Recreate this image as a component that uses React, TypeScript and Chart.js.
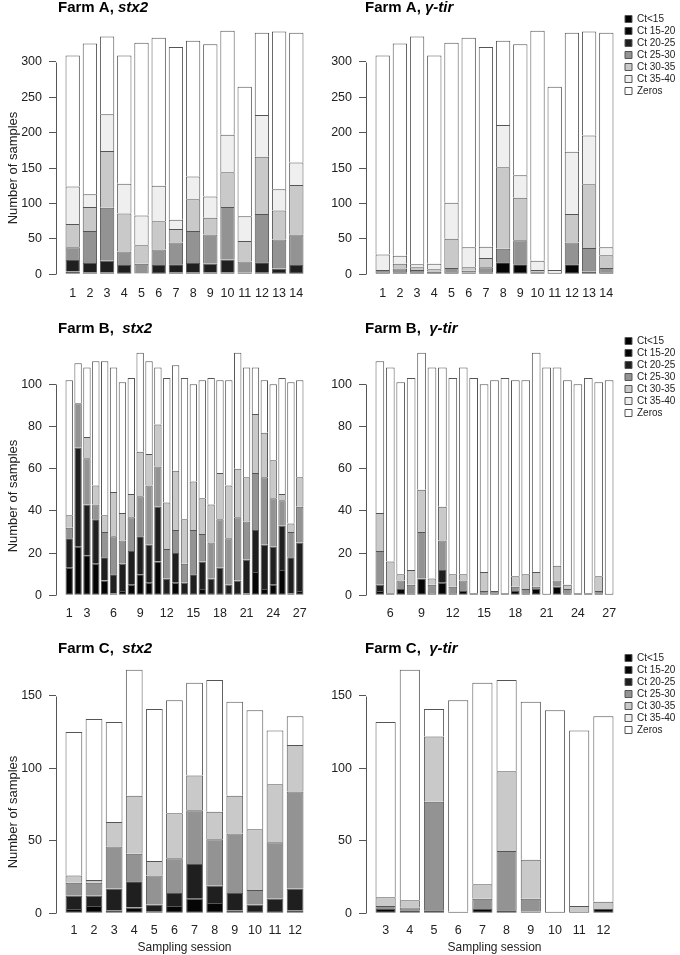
import React, { useEffect, useRef } from 'react';
import { Chart, registerables } from 'chart.js';

Chart.register(...registerables);

const FONT = "'Liberation Sans', Arial, Helvetica, sans-serif";
Chart.defaults.font.family = FONT;

const CATEGORIES = ['Ct<15', 'Ct 15-20', 'Ct 20-25', 'Ct 25-30', 'Ct 30-35', 'Ct 35-40', 'Zeros'];
const COLORS = ['#000000', '#050505', '#1f1f1f', '#939393', '#c9c9c9', '#efefef', '#ffffff'];
const BORDER = '#555555';
const AXIS = '#555555';
const TEXT = '#222222';

// ---------- sessions / tick labels ----------
const SESSIONS_A = [1, 2, 3, 4, 5, 6, 7, 8, 9, 10, 11, 12, 13, 14];
const SESSIONS_B_STX2 = [1, 2, 3, 4, 5, 6, 7, 8, 9, 10, 11, 12, 13, 14, 15, 16, 17, 18, 19, 20, 21, 22, 23, 24, 25, 26, 27];
const LABELS_B_STX2 = [1, 3, 6, 9, 12, 15, 18, 21, 24, 27];
const SESSIONS_B_TIR = [5, 6, 7, 8, 9, 10, 11, 12, 13, 14, 15, 16, 17, 18, 19, 20, 21, 22, 23, 24, 25, 26, 27];
const LABELS_B_TIR = [6, 9, 12, 15, 18, 21, 24, 27];
const SESSIONS_C_STX2 = [1, 2, 3, 4, 5, 6, 7, 8, 9, 10, 11, 12];
const SESSIONS_C_TIR = [3, 4, 5, 6, 7, 8, 9, 10, 11, 12];

const Y_TICKS_A = [0, 50, 100, 150, 200, 250, 300];
const Y_TICKS_B = [0, 20, 40, 60, 80, 100];
const Y_TICKS_C = [0, 50, 100, 150];

// ---------- Farm A, stx2 ----------
const A_STX2_CT15 = [0, 0, 0, 0, 0, 0, 0, 0, 0, 0, 0, 0, 0, 0];
const A_STX2_CT15_20 = [4, 3, 3, 0, 0, 0, 3, 3, 3, 3, 0, 2, 0, 0];
const A_STX2_CT20_25 = [16, 13, 16, 13, 1, 13, 11, 13, 12, 18, 2, 15, 8, 13];
const A_STX2_CT25_30 = [18, 45, 75, 19, 14, 22, 31, 45, 41, 74, 16, 68, 41, 43];
const A_STX2_CT30_35 = [33, 34, 80, 54, 26, 40, 19, 45, 24, 49, 29, 81, 41, 70];
const A_STX2_CT35_40 = [53, 18, 52, 42, 42, 50, 13, 32, 30, 53, 35, 59, 30, 32];
const A_STX2_ZEROS = [185, 213, 110, 181, 244, 209, 244, 192, 215, 147, 183, 116, 223, 183];

// ---------- Farm A, gamma-tir ----------
const A_TIR_CT15 = [0, 0, 0, 0, 0, 0, 0, 0, 0, 0, 0, 0, 0, 0];
const A_TIR_CT15_20 = [0, 0, 0, 0, 0, 0, 0, 17, 14, 0, 0, 14, 0, 0];
const A_TIR_CT20_25 = [0, 3, 3, 0, 0, 2, 3, 0, 0, 3, 0, 0, 4, 0];
const A_TIR_CT25_30 = [6, 5, 3, 4, 9, 3, 7, 19, 34, 0, 0, 31, 33, 9];
const A_TIR_CT30_35 = [0, 7, 4, 3, 41, 5, 13, 115, 60, 3, 0, 40, 90, 18];
const A_TIR_CT35_40 = [22, 11, 4, 8, 51, 28, 16, 60, 32, 13, 6, 88, 69, 11];
const A_TIR_ZEROS = [281, 300, 322, 294, 226, 296, 282, 119, 185, 325, 259, 168, 147, 303];

// ---------- Farm B, stx2 ----------
const B_STX2_CT15 = [0, 0, 0, 0, 0, 0, 0, 0, 0, 0, 0, 0, 0, 0, 0, 0, 0, 0, 0, 0, 0, 0, 0, 0, 0, 0, 0];
const B_STX2_CT15_20 = [13, 23, 19, 15, 7, 1, 2, 5, 10, 6, 16, 0, 6, 0, 0, 3, 0, 0, 0, 0, 1, 11, 3, 5, 12, 1, 2];
const B_STX2_CT20_25 = [14, 47, 24, 21, 11, 9, 13, 16, 18, 18, 26, 8, 14, 6, 10, 13, 8, 13, 5, 7, 16, 20, 21, 18, 21, 17, 23];
const B_STX2_CT25_30 = [5, 21, 22, 7, 12, 18, 11, 16, 19, 28, 19, 14, 11, 9, 21, 13, 17, 23, 22, 30, 18, 27, 32, 23, 12, 12, 17];
const B_STX2_CT30_35 = [6, 0, 10, 9, 8, 21, 13, 11, 21, 15, 20, 22, 28, 21, 23, 17, 18, 22, 25, 23, 21, 28, 21, 18, 3, 4, 14];
const B_STX2_CT35_40 = [0, 0, 0, 0, 0, 0, 0, 0, 0, 0, 0, 0, 0, 0, 0, 0, 0, 0, 0, 0, 0, 0, 0, 0, 0, 0, 0];
const B_STX2_ZEROS = [64, 19, 33, 59, 73, 59, 62, 55, 47, 44, 27, 59, 50, 67, 46, 56, 60, 44, 50, 55, 52, 22, 25, 36, 55, 67, 46];

// ---------- Farm B, gamma-tir ----------
const B_TIR_CT15 = [0, 0, 0, 0, 0, 0, 0, 0, 0, 0, 0, 0, 0, 0, 0, 0, 0, 0, 0, 0, 0, 0, 0];
const B_TIR_CT15_20 = [2, 1, 3, 1, 8, 0, 6, 1, 2, 0, 0, 0, 1, 2, 1, 3, 0, 4, 1, 1, 0, 1, 0];
const B_TIR_CT20_25 = [3, 0, 0, 0, 0, 0, 6, 0, 0, 0, 0, 0, 0, 0, 0, 0, 0, 0, 0, 0, 0, 0, 0];
const B_TIR_CT25_30 = [16, 0, 4, 4, 22, 5, 14, 3, 5, 0, 2, 2, 0, 2, 2, 1, 0, 3, 2, 0, 0, 1, 0];
const B_TIR_CT30_35 = [18, 15, 3, 7, 20, 3, 16, 6, 3, 1, 9, 0, 0, 5, 7, 7, 0, 7, 2, 0, 1, 7, 0];
const B_TIR_CT35_40 = [0, 0, 0, 0, 0, 0, 0, 0, 0, 0, 0, 0, 0, 0, 0, 0, 0, 0, 0, 0, 0, 0, 0];
const B_TIR_ZEROS = [72, 92, 91, 91, 65, 100, 66, 93, 98, 102, 89, 100, 102, 93, 92, 104, 108, 94, 97, 99, 102, 92, 102];

// ---------- Farm C, stx2 ----------
const C_STX2_CT15 = [0, 0, 0, 0, 0, 0, 0, 0, 0, 0, 0, 0];
const C_STX2_CT15_20 = [3, 5, 2, 4, 1, 5, 10, 7, 2, 0, 0, 2];
const C_STX2_CT20_25 = [9, 7, 15, 18, 5, 9, 24, 12, 12, 6, 10, 15];
const C_STX2_CT25_30 = [9, 9, 29, 19, 20, 24, 37, 32, 41, 10, 39, 67];
const C_STX2_CT30_35 = [5, 2, 17, 40, 10, 31, 24, 19, 26, 42, 40, 32];
const C_STX2_CT35_40 = [0, 0, 0, 0, 0, 0, 0, 0, 0, 0, 0, 0];
const C_STX2_ZEROS = [99, 111, 69, 87, 105, 78, 64, 91, 65, 82, 37, 20];

// ---------- Farm C, gamma-tir ----------
const C_TIR_CT15 = [0, 0, 0, 0, 0, 0, 0, 0, 0, 0];
const C_TIR_CT15_20 = [3, 2, 2, 0, 3, 2, 1, 0, 0, 3];
const C_TIR_CT20_25 = [0, 0, 0, 0, 0, 0, 0, 0, 0, 0];
const C_TIR_CT25_30 = [2, 2, 75, 0, 7, 41, 9, 0, 0, 0];
const C_TIR_CT30_35 = [6, 5, 45, 1, 10, 55, 27, 0, 5, 5];
const C_TIR_CT35_40 = [0, 0, 0, 0, 0, 0, 0, 0, 0, 0];
const C_TIR_ZEROS = [121, 159, 19, 146, 139, 63, 109, 140, 121, 128];

type TitlePart = { text: string; italic: boolean };

type PanelDef = {
  left: number;
  top: number;
  width: number;
  height: number;
  sessions: number[];
  labeled: number[];
  series: number[][];
  yTicks: number[];
  titleParts: TitlePart[];
  legend: boolean;
  yTitle: boolean;
  xTitle: boolean;
  chartTop: number;
  chartBottom: number;
  yAxisWidth: number;
  padRight: number;
  titleX: number;
  titleBase: number;
  yTitleY: number;
  xLabelPad: number;
};

const LEFT_COL = { left: 0, width: 318, yAxisWidth: 56, padRight: 5, titleX: 58 };
const RIGHT_COL = { left: 318, width: 362, yAxisWidth: 48, padRight: 0, titleX: 47 };
const ROW_A = { top: 0, height: 300, chartTop: 21, chartBottom: 284, titleBase: 12, yTitleY: 168, xLabelPad: 2 };
const ROW_B = { top: 300, height: 320, chartTop: 43, chartBottom: 305, titleBase: 33, yTitleY: 196, xLabelPad: 1 };
const ROW_C = { top: 620, height: 335, chartTop: 40, chartBottom: 303, titleBase: 33, yTitleY: 192, xLabelPad: 0 };

const PANELS: PanelDef[] = [
  {
    ...LEFT_COL, ...ROW_A,
    sessions: SESSIONS_A, labeled: SESSIONS_A, yTicks: Y_TICKS_A,
    series: [A_STX2_CT15, A_STX2_CT15_20, A_STX2_CT20_25, A_STX2_CT25_30, A_STX2_CT30_35, A_STX2_CT35_40, A_STX2_ZEROS],
    titleParts: [{ text: 'Farm A, ', italic: false }, { text: 'stx2', italic: true }],
    legend: false, yTitle: true, xTitle: false,
  },
  {
    ...RIGHT_COL, ...ROW_A,
    sessions: SESSIONS_A, labeled: SESSIONS_A, yTicks: Y_TICKS_A,
    series: [A_TIR_CT15, A_TIR_CT15_20, A_TIR_CT20_25, A_TIR_CT25_30, A_TIR_CT30_35, A_TIR_CT35_40, A_TIR_ZEROS],
    titleParts: [{ text: 'Farm A, ', italic: false }, { text: 'γ-tir', italic: true }],
    legend: true, yTitle: false, xTitle: false,
  },
  {
    ...LEFT_COL, ...ROW_B,
    sessions: SESSIONS_B_STX2, labeled: LABELS_B_STX2, yTicks: Y_TICKS_B,
    series: [B_STX2_CT15, B_STX2_CT15_20, B_STX2_CT20_25, B_STX2_CT25_30, B_STX2_CT30_35, B_STX2_CT35_40, B_STX2_ZEROS],
    titleParts: [{ text: 'Farm B,  ', italic: false }, { text: 'stx2', italic: true }],
    legend: false, yTitle: true, xTitle: false,
  },
  {
    ...RIGHT_COL, ...ROW_B,
    sessions: SESSIONS_B_TIR, labeled: LABELS_B_TIR, yTicks: Y_TICKS_B,
    series: [B_TIR_CT15, B_TIR_CT15_20, B_TIR_CT20_25, B_TIR_CT25_30, B_TIR_CT30_35, B_TIR_CT35_40, B_TIR_ZEROS],
    titleParts: [{ text: 'Farm B,  ', italic: false }, { text: 'γ-tir', italic: true }],
    legend: true, yTitle: false, xTitle: false,
  },
  {
    ...LEFT_COL, ...ROW_C,
    sessions: SESSIONS_C_STX2, labeled: SESSIONS_C_STX2, yTicks: Y_TICKS_C,
    series: [C_STX2_CT15, C_STX2_CT15_20, C_STX2_CT20_25, C_STX2_CT25_30, C_STX2_CT30_35, C_STX2_CT35_40, C_STX2_ZEROS],
    titleParts: [{ text: 'Farm C,  ', italic: false }, { text: 'stx2', italic: true }],
    legend: false, yTitle: true, xTitle: true,
  },
  {
    ...RIGHT_COL, ...ROW_C,
    sessions: SESSIONS_C_TIR, labeled: SESSIONS_C_TIR, yTicks: Y_TICKS_C,
    series: [C_TIR_CT15, C_TIR_CT15_20, C_TIR_CT20_25, C_TIR_CT25_30, C_TIR_CT30_35, C_TIR_CT35_40, C_TIR_ZEROS],
    titleParts: [{ text: 'Farm C,  ', italic: false }, { text: 'γ-tir', italic: true }],
    legend: true, yTitle: false, xTitle: true,
  },
];

function Panel(p: PanelDef) {
  const ref = useRef<HTMLCanvasElement | null>(null);

  useEffect(() => {
    if (!ref.current) return;
    const n = p.sessions.length;
    // R barplot geometry: bars of width 1, space 0.2, 4% axis extension
    const ext = 0.04 * (1.2 * n - 0.2);
    const xMin = 0.2 - ext;
    const xMax = 1.2 * n + ext;
    const center = (i: number) => 0.7 + 1.2 * i;
    const totals = p.sessions.map((_, i) => p.series.reduce((s, arr) => s + arr[i], 0));
    const M = Math.max(...totals);

    const datasets = CATEGORIES.map((label, k) => ({
      label,
      data: p.sessions.map((_, i) => ({ x: center(i), y: p.series[k][i] })),
      backgroundColor: COLORS[k],
      borderColor: BORDER,
      borderWidth: 1,
      borderSkipped: (ctx: any) => {
        const i = ctx.dataIndex;
        if (i === undefined) return 'start';
        for (let j = 0; j < k; j++) {
          if (p.series[j][i] > 0) return 'start';
        }
        return false;
      },
      categoryPercentage: 1 / 1.2,
      barPercentage: 1,
    }));

    const decor = {
      id: 'panelDecor',
      afterDraw(chart: any) {
        const { ctx, chartArea } = chart;
        const ys = chart.scales.y;
        ctx.save();
        // y axis line from first to last tick (R style)
        const ax = Math.round(chartArea.left) + 0.5;
        ctx.strokeStyle = AXIS;
        ctx.lineWidth = 1;
        ctx.beginPath();
        ctx.moveTo(ax, Math.round(ys.getPixelForValue(p.yTicks[0])) + 0.5);
        ctx.lineTo(ax, Math.round(ys.getPixelForValue(p.yTicks[p.yTicks.length - 1])) + 0.5);
        ctx.stroke();
        // panel title with mixed styles
        ctx.fillStyle = '#000';
        ctx.textAlign = 'left';
        ctx.textBaseline = 'alphabetic';
        let tx = p.titleX;
        for (const part of p.titleParts) {
          ctx.font = `${part.italic ? 'italic ' : ''}bold 15px ${FONT}`;
          ctx.fillText(part.text, tx, p.titleBase);
          tx += ctx.measureText(part.text).width;
        }
        // y axis title
        if (p.yTitle) {
          ctx.translate(13, p.yTitleY);
          ctx.rotate(-Math.PI / 2);
          ctx.font = `13px ${FONT}`;
          ctx.fillStyle = TEXT;
          ctx.textAlign = 'center';
          ctx.textBaseline = 'middle';
          ctx.fillText('Number of samples', 0, 0);
        }
        ctx.restore();
      },
    };

    const chart = new Chart(ref.current, {
      type: 'bar',
      data: { datasets: datasets as any },
      options: {
        responsive: false,
        animation: false,
        events: [],
        layout: { padding: { top: p.chartTop - 9, right: p.padRight, bottom: 0, left: 0 } },
        scales: {
          x: {
            type: 'linear',
            min: xMin,
            max: xMax,
            offset: false,
            stacked: true,
            grid: { display: false, drawTicks: false, offset: false },
            border: { display: false },
            afterBuildTicks: (scale: any) => {
              scale.ticks = p.labeled.map((s) => ({ value: center(p.sessions.indexOf(s)) }));
            },
            afterFit: (scale: any) => {
              scale.height = p.height - p.chartBottom;
            },
            ticks: {
              autoSkip: false,
              maxRotation: 0,
              minRotation: 0,
              padding: p.xLabelPad,
              color: TEXT,
              font: { size: 12.5, family: FONT },
              callback: (_v: any, idx: number) => String(p.labeled[idx]),
            },
            title: {
              display: p.xTitle,
              text: 'Sampling session',
              color: TEXT,
              font: { size: 12, family: FONT },
              padding: { top: 0, bottom: 0 },
            },
          },
          y: {
            type: 'linear',
            min: -0.04 * M,
            max: 1.04 * M,
            stacked: true,
            grid: { display: true, drawOnChartArea: false, drawTicks: true, tickLength: 7, color: AXIS, lineWidth: 1 },
            border: { display: false },
            afterBuildTicks: (scale: any) => {
              scale.ticks = p.yTicks.map((v) => ({ value: v }));
            },
            afterFit: (scale: any) => {
              scale.width = p.yAxisWidth;
            },
            ticks: {
              padding: 7,
              color: TEXT,
              font: { size: 12.5, family: FONT },
              callback: (v: any) => String(v),
            },
          },
        },
        plugins: {
          tooltip: { enabled: false },
          title: {
            display: true,
            text: '',
            fullSize: false,
            padding: 0,
            font: { size: 9, lineHeight: 1 },
          },
          legend: {
            display: p.legend,
            position: 'right',
            align: 'start',
            maxWidth: 57,
            labels: {
              boxWidth: 7,
              boxHeight: 7,
              padding: 2,
              color: TEXT,
              font: { size: 10, family: FONT },
            },
          },
        },
      } as any,
      plugins: [decor],
    });
    return () => chart.destroy();
  }, []);

  return (
    <canvas
      ref={ref}
      width={p.width}
      height={p.height}
      style={{ position: 'absolute', left: p.left, top: p.top, width: p.width, height: p.height }}
    />
  );
}

export default function App() {
  return (
    <div style={{ position: 'absolute', left: 0, top: 0, width: 680, height: 955, background: '#ffffff' }}>
      {PANELS.map((p, i) => (
        <Panel key={i} {...p} />
      ))}
    </div>
  );
}
